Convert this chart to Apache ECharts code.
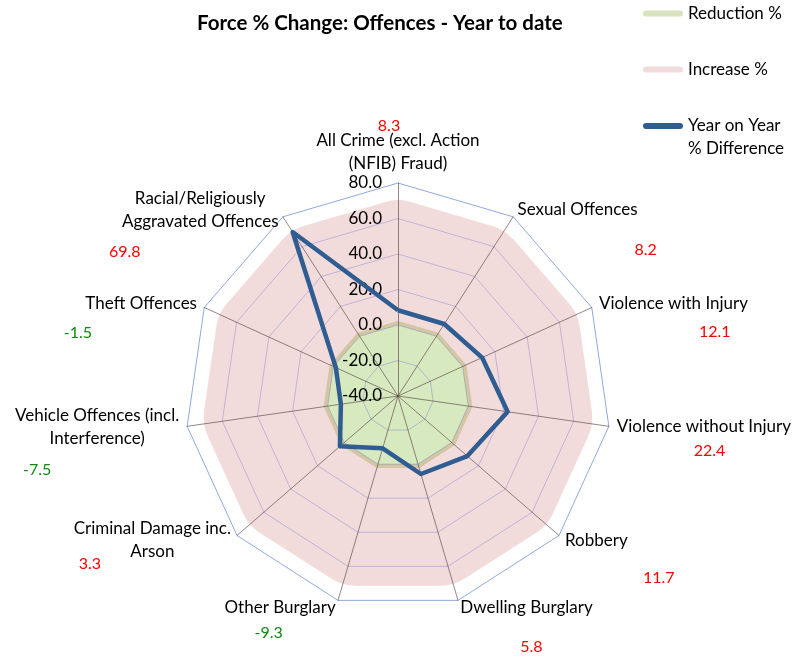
<!DOCTYPE html>
<html>
<head>
<meta charset="utf-8">
<script src="https://cdn.jsdelivr.net/npm/echarts@6/dist/echarts.min.js"></script>
<style>
  html, body { margin: 0; padding: 0; background: #fff; }
  #chart { width: 795px; height: 661px; }
</style>
</head>
<body>
<div id="chart"></div>
<script>
const categories = [
  'All Crime (excl. Action\n(NFIB) Fraud)',
  'Sexual Offences',
  'Violence with Injury',
  'Violence without Injury',
  'Robbery',
  'Dwelling Burglary',
  'Other Burglary',
  'Criminal Damage inc.\nArson',
  'Vehicle Offences (incl.\nInterference)',
  'Theft Offences',
  'Racial/Religiously\nAggravated Offences'
]
const yearOnYear = [8.3, 8.2, 12.1, 22.4, 11.7, 5.8, -9.3, 3.3, -7.5, -1.5, 69.8]
const reduction = [0, 0, 0, 0, 0, 0, 0, 0, 0, 0, 0]
const increase = [45, 45, 45, 45, 45, 45, 45, 45, 45, 45, 45]
const axisMin = -40
const axisMax = 80

const FONT = 'Lato'
const FS = 17

// where the value label sits next to each category name (pixels)
const valueLabelLayout = [
  { side: 'top', pb: 6, shift: 18 },
  { side: 'right', pt: 56, p: 117 },
  { side: 'right', pt: 32, p: 100 },
  { side: 'right', pt: 24, p: 77 },
  { side: 'right', pt: 52, p: 78 },
  { side: 'right', pt: 54, p: 60 },
  { side: 'left', pt: 26, p: 53 },
  { side: 'left', pt: 0, p: 130 },
  { side: 'left', pt: 38, p: 128 },
  { side: 'left', pt: 34, p: 105 },
  { side: 'left', pt: 38, p: 138 }
]

// echarts lays indicators out anticlockwise, the chart runs clockwise
const order = [0]
for (let i = categories.length - 1; i > 0; i--) order.push(i)
const pick = arr => order.map(i => arr[i])

const rich = {
  n: { fontFamily: FONT, fontSize: FS, lineHeight: 23, color: '#000' },
  nc: { fontFamily: FONT, fontSize: FS, lineHeight: 23, color: '#000', align: 'center' }
}
valueLabelLayout.forEach((l, i) => {
  const base = {
    fontFamily: FONT,
    fontSize: 16,
    lineHeight: 1,
    width: 1,
    color: yearOnYear[i] < 0 ? '#108a10' : '#ff0000'
  }
  if (l.side === 'top') {
    rich['v' + i] = Object.assign(base, { align: 'center', padding: [0, l.shift, l.pb, 0] })
  } else if (l.side === 'right') {
    rich['v' + i] = Object.assign(base, { align: 'left', padding: [l.pt, 0, 0, l.p] })
  } else {
    rich['v' + i] = Object.assign(base, { align: 'right', padding: [l.pt, l.p, 0, 0] })
  }
})

const indicators = order.map((i, k) => {
  const ind = { name: categories[i], min: axisMin, max: axisMax }
  if (k === 0) ind.axisLabel = { show: true }
  return ind
})

const ringColors = [
  'rgba(100,100,210,0.35)',
  'rgba(100,100,210,0.35)',
  'rgba(100,100,210,0.35)',
  'rgba(100,100,210,0.35)',
  'rgba(100,100,210,0.35)',
  'rgba(100,100,210,0.35)',
  '#8faadc'
]

const roundIcon = 'path://M3,0H37A3,3,0,0,1,37,6H3A3,3,0,0,1,3,0Z'

const chart = echarts.init(document.getElementById('chart'))
chart.setOption({
  animation: false,
  title: {
    text: 'Force % Change: Offences - Year to date',
    left: 192,
    top: 8,
    textStyle: { fontFamily: FONT, fontSize: 20.5, fontWeight: 'bold', color: '#000' }
  },
  legend: {
    orient: 'vertical',
    left: 643,
    top: 2,
    padding: 0,
    itemWidth: 40,
    itemHeight: 6,
    itemGap: 33,
    textStyle: {
      fontFamily: FONT,
      fontSize: FS,
      lineHeight: 23,
      color: '#000',
      rich: {
        a: { fontFamily: FONT, fontSize: FS, lineHeight: 23, color: '#000' },
        b: { fontFamily: FONT, fontSize: FS, lineHeight: 1, color: '#000', padding: [22, 0, 0, 0] }
      }
    },
    formatter: function (name) {
      const parts = name.split('\n')
      if (parts.length === 1) return name
      return '{a|' + parts[0] + '}\n{b|' + parts[1] + '}'
    },
    data: [
      { name: 'Reduction %', icon: roundIcon, itemStyle: { color: '#d7e4bd', borderWidth: 0 } },
      { name: 'Increase %', icon: roundIcon, itemStyle: { color: '#f2dcdb', borderWidth: 0 } },
      { name: 'Year on Year\n% Difference', icon: roundIcon, itemStyle: { color: '#2f5d92', borderWidth: 0 } }
    ]
  },
  radar: {
    z: 3,
    center: [398, 396],
    radius: 213,
    startAngle: 90,
    shape: 'polygon',
    splitNumber: 6,
    indicator: indicators,
    axisName: {
      color: '#000',
      fontFamily: FONT,
      fontSize: FS,
      rich: rich,
      formatter: function (name) {
        const i = categories.indexOf(name)
        const l = valueLabelLayout[i]
        const lines = name.split('\n')
        const st = lines.length > 1 ? 'nc' : 'n'
        const nameTxt = lines.map(s => '{' + st + '|' + s + '}').join('\n')
        const valTxt = '{v' + i + '|' + yearOnYear[i].toFixed(1) + '}'
        return l.side === 'top' ? valTxt + '\n' + nameTxt : nameTxt + '\n' + valTxt
      }
    },
    nameGap: 8,
    axisLine: { lineStyle: { color: 'rgba(90,70,70,0.65)', width: 1 } },
    axisTick: { show: false },
    axisLabel: {
      show: false,
      fontFamily: FONT,
      fontSize: FS,
      color: '#000',
      margin: 16,
      formatter: v => v.toFixed(1)
    },
    splitLine: { lineStyle: { color: ringColors, width: 1 } },
    splitArea: { show: false }
  },
  series: [
    {
      name: 'Increase %',
      type: 'radar',
      z: 1,
      symbol: 'none',
      silent: true,
      lineStyle: { color: '#f2dcdb', width: 90, join: 'round', cap: 'round' },
      areaStyle: { color: '#f2dcdb', opacity: 1 },
      itemStyle: { color: '#f2dcdb' },
      data: [{ name: 'Increase %', value: pick(increase) }]
    },
    {
      name: 'Reduction %',
      type: 'radar',
      z: 2,
      symbol: 'none',
      silent: true,
      lineStyle: { color: 'rgba(185,180,120,0.55)', width: 8, join: 'round', cap: 'round' },
      areaStyle: { color: '#d7e9be', opacity: 1 },
      itemStyle: { color: '#d7e4bd' },
      data: [{ name: 'Reduction %', value: pick(reduction) }]
    },
    {
      name: 'Year on Year\n% Difference',
      type: 'radar',
      z: 5,
      symbol: 'none',
      silent: true,
      lineStyle: { color: '#2f5d92', width: 4.5 },
      itemStyle: { color: '#2f5d92' },
      data: [{ name: 'Year on Year\n% Difference', value: pick(yearOnYear) }]
    }
  ]
})
</script>
</body>
</html>
